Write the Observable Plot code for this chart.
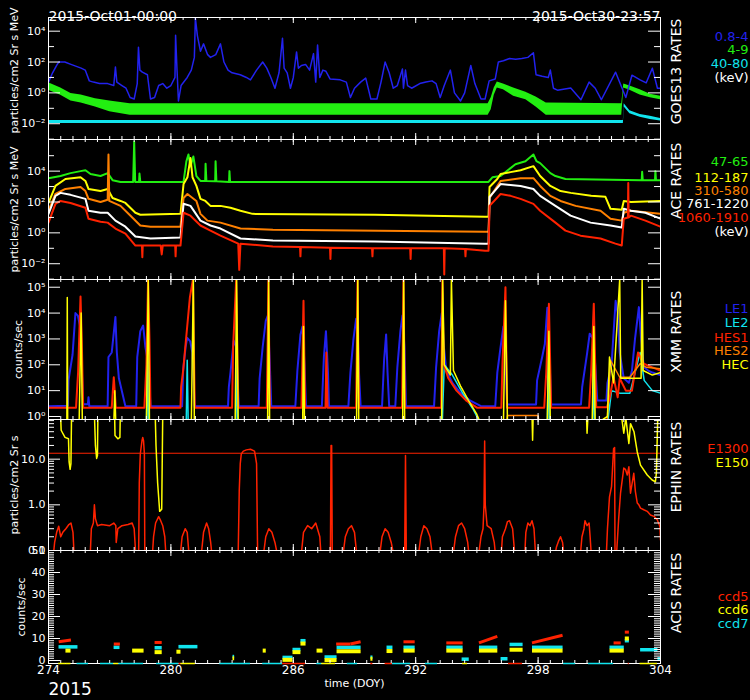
<!DOCTYPE html>
<html><head><meta charset="utf-8">
<script src="https://cdn.jsdelivr.net/npm/d3@7"></script>
<script src="https://cdn.jsdelivr.net/npm/@observablehq/plot@0.6"></script>
<style>
body{margin:0;background:#000;}
#wrap{position:relative;width:750px;height:700px;background:#000;overflow:hidden;}
#wrap svg{position:absolute;left:0;overflow:visible;}
</style></head><body><div id="wrap"></div>
<script>
// ---------------- DATA ----------------
// GOES13 0.8-4 keV
const goesBlueDoy = [274.0,274.2,274.4,274.5,274.8,275.1,275.4,275.6,275.8,276.0,276.2,276.5,276.9,277.2,277.28,277.35,277.6,277.8,278.0,278.2,278.35,278.41,278.48,278.6,278.85,279.0,279.2,279.4,279.6,279.8,280.0,280.2,280.23,280.3,280.37,280.5,280.8,281.0,281.15,281.2,281.3,281.45,281.6,281.8,281.94,282.2,282.43,282.6,282.8,283.0,283.4,283.7,283.9,284.2,284.5,284.7,284.9,285.1,285.3,285.47,285.55,285.7,285.86,286.0,286.16,286.25,286.4,286.6,286.8,286.99,287.1,287.19,287.3,287.45,287.6,287.8,288.3,288.6,288.8,289.0,289.3,289.55,289.8,290.1,290.3,290.5,290.7,290.9,291.1,291.35,291.4,291.5,291.6,291.8,292.2,292.5,292.8,293.0,293.2,293.4,293.7,293.9,294.2,294.4,294.7,294.9,295.2,295.4,295.6,295.9,296.05,296.3,296.6,296.9,297.2,297.5,297.77,297.9,298.2,298.5,298.6,298.75,298.95,299.6,300.1,300.5,300.8,301.1,301.8,302.3,302.6,303.0,303.3,303.6,303.85,304.0];
const goesBlueVal = [5,20,60,100,100,70,50,40,30,6,5,4,4,3,48,5,3,2,0.5,0.4,4,900,30,22,15,0.4,0.5,3,4,2,3,10,5500,30,0.3,3,10,30,200,70000,5000,500,1500,300,200,300,1500,100,30,20,15,10,7,30,100,40,10,2,20,3500,40,20,2,10,450,40,60,70,30,350,5,1250,10,30,25,8,7,5,0.5,2,5,9,0.4,0.4,5,100,20,2,3,35,2,30,3,2,4,5,6,4,0.5,3,30,1,0.3,1,60,4,0.4,0.4,6,8,100,120,170,150,170,200,400,15,12,10,30,2,1.5,2.1,0.36,5,2,0.36,22,0.5,14,7,4.5,40,2,2];
// GOES13 4-9 keV (noise envelope)
const goesGreenDoy = [274.0,274.6,275.1,275.6,276.3,277.0,278.0,295.55,295.7,295.85,296.0,296.3,296.8,297.4,297.9,298.4,302.1,302.2,302.5,303.0,303.5,304.0];
const goesGreenLo  = [1.5,0.7,0.3,0.22,0.12,0.06,0.035,0.035,0.08,0.7,2.1,1.6,0.6,0.36,0.12,0.035,0.035,2.1,1.5,0.74,0.48,0.36];
const goesGreenHi  = [4.5,2.1,0.9,0.74,0.41,0.3,0.2,0.2,0.48,2.1,5,3.8,2.1,1.1,0.55,0.22,0.2,3.8,2.8,1.6,0.8,0.6];
// GOES13 40-80 keV (noise envelope)
const goesCyanDoy = [274.0,302.18,302.22,302.5,303.0,303.5,304.0];
const goesCyanLo  = [0.0105,0.0105,0.12,0.045,0.026,0.019,0.015];
const goesCyanHi  = [0.016,0.016,0.2,0.07,0.04,0.03,0.022];

// ACE
const ace47Doy = [274.0,274.59,275.08,275.57,275.81,276.06,276.55,276.9,277.14,277.53,278.15,278.2,278.25,278.44,278.46,278.5,280.62,280.76,280.86,280.96,281.1,281.25,281.45,281.68,281.7,281.74,282.17,282.19,282.23,282.85,282.87,282.9,283.41,295.57,295.76,296.16,296.89,297.38,297.77,297.92,298.1,298.6,298.85,299.34,303.08,303.1,303.13,303.73,303.75,303.78,304.0];
const ace47Val = [3500,4800,7400,10000,11500,6500,4800,7400,2600,2000,2000,800000,2000,2000,7000,2000,2000,44000,120000,20000,90000,4800,2300,2300,30000,2300,2200,44000,2200,2000,10000,2000,2000,2000,4000,4800,28000,44000,120000,44000,33000,7400,4800,3100,2600,9000,2600,2600,10000,2600,2600];
const ace112Doy = [274.0,274.34,274.83,275.57,275.81,275.96,276.55,276.9,277.14,277.53,277.77,278.26,278.5,280.47,280.62,280.81,280.96,281.06,281.25,281.45,281.69,281.94,282.43,282.92,283.41,284.0,290.0,295.4,295.57,295.62,296.0,296.16,296.65,297.14,297.77,298.1,298.6,299.1,299.6,300.6,301.3,301.55,302.1,302.2,302.55,304.0];
const ace112Val = [87,1100,3100,4000,2300,700,510,700,180,117,87,20,15,17,1450,4000,70000,4000,1100,160,117,56,56,42,27,17,15,11,11,930,3100,6500,8600,11500,21000,4800,1100,510,390,250,215,36,31,117,100,117];
const ace310Doy = [274.0,274.34,274.83,275.57,275.81,275.96,276.55,276.9,276.94,276.98,277.53,278.02,278.5,279.0,280.47,280.62,280.81,281.25,281.45,281.79,282.43,283.41,285.0,295.4,295.57,295.62,296.16,297.14,297.77,298.1,298.6,299.1,299.84,301.06,301.55,302.1,302.2,302.55,304.0];
const ace310Val = [27,330,700,930,510,160,100,140,120000,117,56,13,3,2.5,2.5,180,330,117,17,6.2,4.6,1.9,1.6,1.2,1.2,180,2300,3500,3500,1100,250,117,56,27,8.3,6.2,20,27,17];
const ace761Doy = [274.0,274.34,274.59,275.08,275.81,275.96,276.55,276.9,277.28,277.77,278.26,279.0,280.47,280.62,280.96,281.45,281.94,282.43,283.41,285.0,290.0,295.4,295.57,295.62,296.16,297.14,297.77,298.1,298.85,299.59,300.57,301.55,302.1,302.2,302.55,303.26,304.0];
const ace761Val = [17,250,390,290,160,27,20,20,6.2,2.5,0.58,0.43,0.5,76,56,6.2,3,1.9,0.43,0.32,0.28,0.2,0.2,215,1450,1100,700,250,56,13,4.6,3,2.2,36,27,20,8.3];
const ace1060Doy = [274.0,274.34,274.59,275.08,275.81,275.96,276.55,276.9,277.28,277.77,278.26,278.58,278.6,278.62,279.5,279.55,279.6,280.21,280.23,280.25,280.47,280.62,280.96,281.45,281.94,282.43,283.3,283.35,283.41,285.0,286.33,286.35,286.37,287.8,287.82,287.84,289.86,289.88,289.9,290.0,291.73,291.75,291.77,293.38,293.4,293.42,294.42,294.44,294.46,295.4,295.57,295.62,296.16,296.65,297.14,297.77,298.1,298.85,299.34,300.08,301.06,301.79,302.1,302.2,302.4,302.42,302.44,302.55,303.26,304.0];
const ace1060Val = [4.6,76,117,87,42,8.3,5.2,4.6,1.9,0.9,0.15,0.15,0.026,0.15,0.15,0.04,0.15,0.15,0.03,0.15,0.15,20,13,3,1.4,0.66,0.2,0.004,0.2,0.13,0.12,0.03,0.12,0.11,0.02,0.11,0.1,0.03,0.1,0.1,0.1,0.02,0.1,0.1,0.002,0.1,0.09,0.03,0.09,0.07,0.07,56,330,250,160,76,27,4.6,1.4,0.66,0.43,0.2,0.15,8.3,10,1700,10,13,6.2,2.5];

// XMM
const le1Doy = [274.0,274.95,274.98,275.18,275.32,275.44,275.55,275.7,275.93,275.96,276.0,276.9,276.94,277.1,277.28,277.35,277.45,277.77,278.3,278.35,278.5,278.64,278.75,278.9,279.0,280.55,280.6,280.72,280.8,280.95,281.05,281.17,282.8,282.84,282.92,283.08,283.2,283.33,284.3,284.35,284.5,284.65,284.75,284.85,284.92,286.1,286.2,286.35,286.45,286.55,286.62,287.4,287.5,287.6,287.7,287.75,288.7,288.8,288.95,289.08,289.15,289.22,289.3,290.35,290.45,290.55,290.62,290.7,291.0,291.1,291.25,291.35,291.45,291.52,292.9,293.0,293.15,293.28,293.38,293.5,293.8,294.2,294.7,295.2,295.9,296.0,296.16,296.3,296.4,296.48,297.9,297.95,298.2,298.33,298.45,298.55,298.64,300.1,300.16,300.4,300.53,300.7,300.8,300.9,301.35,301.4,301.6,301.8,301.9,302.0,302.2,302.45,302.6,302.75,302.94,303.05,303.18,303.4,303.6,304.0];
const le1Val = [2.5,2.6,25,250,10000,8000,3000,3,3,5.6,2.5,2.5,200,300,7000,300,30,2.5,2.5,200,2000,3300,480,100,2.5,2.5,60,480,1100,800,300,2.5,2.5,13.6,50,870,500,2.5,2.5,30,500,5000,8000,100,2.5,2.5,60,1500,3000,100,2.5,2.5,200,2000,50,2.5,2.5,50,1000,6000,3000,50,2.5,2.5,150,1500,50,2.5,2.5,80,2000,8000,500,2.5,2.5,80,2000,10000,500,60,20,8,4,2.5,2.5,50,480,3000,200,2.9,2.9,25,200,640,16000,300,2.9,2.9,13.6,270,1600,1000,100,4.2,4.2,20,100,30000,10000,300,30,20,60,1000,17000,1000,80,60,50,40];
const hes1Doy = [274.0,275.35,275.45,275.57,275.63,275.7,277.1,277.2,277.3,278.7,278.8,278.88,278.95,279.0,280.47,280.5,280.6,280.93,281.08,281.17,283.0,283.05,283.2,283.3,284.7,284.78,284.85,286.4,286.5,286.58,287.58,287.62,287.68,289.08,289.15,289.22,291.33,291.4,291.47,293.25,293.31,293.38,293.6,294.0,294.5,295.0,296.2,296.25,296.4,296.48,298.3,298.4,298.53,298.64,300.5,300.6,300.73,300.85,301.38,301.5,301.7,301.9,302.0,302.3,302.6,302.9,303.18,303.6,304.0];
const hes1Val = [2.2,2.2,50,44000,1000,2.2,2.2,33,2.2,2.2,100,200000,1000,2.2,2.2,13.6,60,40000,200000,2.2,2.2,480,200000,2.2,2.2,200000,2.2,2.2,30000,2.2,2.2,300,2.2,2.2,200000,2.2,2.2,200000,2.2,2.2,200000,100,30,10,4,2.2,2.2,100,100000,2.2,2.2,50,23000,2.2,2.2,50,23000,2.3,2.3,5,33,5.5,30,10,10,300,110,80,60];
const hecDoy = [274.0,274.9,274.92,274.94,275.5,275.6,275.66,277.2,277.25,277.3,278.8,278.89,278.95,281.0,281.1,281.15,283.15,283.22,283.3,284.74,284.79,284.84,286.46,286.5,286.55,289.1,289.16,289.21,291.36,291.41,291.46,293.27,293.32,293.4,293.7,293.75,293.85,294.2,294.6,295.0,295.2,296.3,296.4,296.5,298.45,298.53,298.6,300.65,300.73,300.8,301.4,301.5,301.7,302.0,302.05,302.5,303.05,303.1,303.15,303.6,304.0];
const hecVal = [0.5,0.5,40000,0.5,0.5,10000,0.5,0.5,10,0.5,0.5,200000,0.5,0.5,200000,0.5,0.5,200000,0.5,0.5,200000,0.5,0.5,3000,0.5,0.5,200000,0.5,0.5,200000,0.5,0.5,200000,100,40,200000,60,15,4,1.2,0.5,0.5,30000,0.5,0.5,2000,0.5,0.5,3000,0.5,1,200,20,200000,30,30,30,200000,60,40,50];
const le2Doy = [274.0,278.8,278.85,278.9,280.75,280.8,280.85,283.17,283.22,283.27,293.3,293.4,293.8,294.3,294.8,295.2,298.45,298.5,298.55,300.67,300.72,300.77,301.4,301.6,302.0,302.5,303.0,303.2,303.6,304.0];
const le2Val = [0.5,0.5,300,0.5,0.5,150,0.5,0.5,360,0.5,0.5,100,40,8,2,0.5,0.5,200,0.5,0.5,120,0.5,0.5,10,8,8,300,25,10,8];
const hes2Doy = [274.0,296.45,296.5,298.0,298.05,301.38,301.55,302.0,302.5,303.0,303.3,304.0];
const hes2Val = [0.5,0.5,1.1,1.1,0.5,0.5,150,33,33,110,80,70];

// EPHIN
const e150Doy = [274.0,274.59,274.62,274.81,274.98,275.01,275.06,275.1,275.13,276.25,276.3,276.36,276.4,276.42,277.24,277.26,277.4,277.5,277.52,279.23,279.27,279.35,279.45,279.55,279.6,297.7,297.73,297.76,300.37,300.4,300.45,302.07,302.2,302.3,302.45,302.53,302.7,302.86,303.02,303.35,303.59,303.75,303.8,303.84,303.87,304.0];
const e150Val = [100,100,43,30,28,8.7,6,8,100,100,20,10.4,12,100,100,33,28,30,100,100,20,3.0,0.72,0.8,100,100,26,100,100,37,100,100,37,80,22,60,40,14.4,7.4,4.5,3.5,3.2,5,30,100,100];
const e1300Doy = [274.25,274.3,274.4,274.5,274.6,274.7,274.85,275.0,275.1,275.2,275.25,null,276.05,276.1,276.2,276.25,276.3,276.4,276.6,277.0,277.2,277.3,277.32,277.4,277.6,277.9,278.1,278.2,278.27,null,278.42,278.45,278.5,278.58,278.62,278.66,278.7,278.72,null,279.1,279.15,279.25,279.4,279.5,279.6,279.7,279.75,null,280.47,280.55,280.7,280.8,280.88,null,281.5,281.6,281.75,281.85,281.95,282.0,null,283.3,283.35,283.4,283.45,283.55,283.7,283.9,284.1,284.2,284.25,null,284.55,284.65,284.8,284.95,285.1,285.2,null,286.4,286.5,286.7,286.9,287.1,287.3,287.35,null,287.82,287.85,287.88,287.91,null,288.45,288.55,288.7,288.85,289.0,289.1,null,290.25,290.35,290.5,290.65,290.8,290.9,null,291.46,291.5,291.54,null,292.15,292.25,292.4,292.55,292.7,292.8,null,293.85,293.95,294.1,294.25,294.4,294.55,294.6,null,295.1,295.2,295.3,295.35,295.38,295.41,295.5,295.7,295.85,295.9,null,296.2,296.25,296.4,296.5,296.6,296.75,296.85,null,297.35,297.4,297.5,297.6,297.7,297.8,297.87,null,298.85,298.9,299.0,299.1,299.2,299.25,null,300.08,300.15,300.25,300.3,300.4,300.5,300.55,300.6,null,301.35,301.4,301.5,301.6,301.7,301.75,301.77,null,301.85,301.95,302.04,302.2,302.28,302.37,302.45,302.53,302.61,302.69,302.77,302.86,302.94,303.02,303.18,303.35,303.51,303.68,303.84,303.97,304.0];
const e1300Val = [0.09,0.15,0.25,0.34,0.2,0.25,0.3,0.37,0.4,0.25,0.09,null,0.09,0.3,0.4,1.0,0.5,0.35,0.37,0.35,0.4,0.35,0.15,0.3,0.35,0.37,0.4,0.3,0.09,null,0.09,3,13,25,30,25,13,0.09,null,0.09,0.2,0.4,0.55,0.45,0.35,0.2,0.09,null,0.09,0.2,0.3,0.25,0.09,null,0.09,0.25,0.4,0.3,0.15,0.09,null,0.09,2,8,13,15,16,16.5,15,8,0.09,null,0.09,0.2,0.3,0.25,0.15,0.09,null,0.09,0.25,0.35,0.3,0.4,0.2,0.09,null,0.09,20,20,0.09,null,0.09,0.2,0.3,0.35,0.25,0.09,null,0.09,0.2,0.3,0.25,0.15,0.09,null,0.09,12,0.09,null,0.09,0.2,0.35,0.3,0.2,0.09,null,0.09,0.2,0.35,0.4,0.3,0.15,0.09,null,0.09,0.2,0.3,1,25,1,0.35,0.3,0.15,0.09,null,0.09,0.2,0.3,0.43,0.45,0.3,0.09,null,0.09,0.25,0.4,0.35,0.45,0.3,0.09,null,0.09,0.12,0.16,0.2,0.15,0.09,null,0.09,0.2,0.3,0.45,0.35,0.4,0.2,0.09,null,0.09,0.3,1.5,2.5,17,18,0.09,null,0.09,0.5,1.8,6.4,6,4.5,6.8,1.8,3,4.9,1.95,1.1,1.0,0.85,0.78,0.72,0.6,0.56,0.47,0.34,0.17];
const ephinRef = [13.5];

// ACIS (bands: start, end, start value, end value)
const ccd5Start = [274.5,277.2,279.2,288.1,288.8,291.4,293.5,295.1,297.7,301.7,302.25];
const ccd5End   = [275.1,277.5,279.55,288.8,289.3,291.95,294.3,296.0,299.2,302.05,302.45];
const ccd5V1    = [8.5,7.5,8.2,7.5,7.5,8.5,8,8,8,8,12.9];
const ccd5V2    = [9.3,7.5,8.2,7.5,8.5,8.5,8,11,11.5,8,12.9];
const ccd6Start = [274.83,278.1,279.2,280.27,283.02,284.5,285.47,285.96,286.35,287.14,287.53,288.12,289.78,290.57,291.4,293.5,295.1,296.6,297.7,301.5,302.25];
const ccd6End   = [275.08,278.66,279.55,280.47,283.1,284.65,285.96,286.35,286.6,287.43,288.12,289.3,289.88,290.86,291.95,294.3,296.0,297.24,299.2,302.2,302.45];
const ccd6V1    = [4.5,4.5,3.8,4.0,1.0,4.5,0.3,3.8,7.7,4.5,0.2,4.2,0.8,4.3,4.5,4.5,4.5,4.9,4.5,4.5,10];
const ccd6V2    = [4.5,4.5,3.8,4.0,1.0,4.5,0.3,3.8,7.7,4.5,0.2,4.2,0.8,4.3,4.5,4.5,4.5,4.9,4.5,4.5,10];
const ccd7Start = [274.49,277.19,279.2,280.37,283.02,285.47,285.96,286.35,287.53,288.12,289.78,290.57,291.4,293.5,294.25,295.1,296.16,296.6,297.7,301.5,302.25,303.0,303.85];
const ccd7End   = [275.42,277.48,279.55,281.3,283.1,285.96,286.35,286.6,288.12,289.3,289.88,290.86,291.95,294.3,294.6,296.0,296.5,297.24,299.2,302.2,302.45,303.85,304.0];
const ccd7V1    = [6.2,6.0,5.8,6.3,1.8,1.4,5.0,9.0,1.6,6.0,1.5,6.0,6.0,6.0,0.6,6.0,0.8,7.3,6.0,6.0,9,4.9,0.8];
const ccd7V2    = [6.2,6.0,5.8,6.3,1.8,1.4,5.0,9.0,1.6,6.0,1.5,6.0,6.0,6.0,0.6,6.0,0.8,7.3,6.0,6.0,9,4.9,0.8];
// ACIS readings lying on the floor of the panel (off-scale low)
const floorStart = [274.5,274.85,275.4,276.55,277.2,277.45,279.3,280.4,280.5,282.4,284.5,285.47,287.15,287.4,288.65,289.8,290.5,290.86,292.48,294.3,296.55,299.25,300.47,302.42,303.0];
const floorEnd   = [274.85,275.1,275.96,277.2,277.45,278.66,280.4,280.5,281.2,283.9,285.47,286.6,287.4,288.07,289.15,289.9,290.86,291.75,293.07,294.54,297.24,299.84,301.7,302.47,303.85];
const floorCcd   = ["ccd6","ccd6","ccd7","ccd7","ccd6","ccd7","ccd7","ccd5","ccd6","ccd7","ccd7","ccd5","ccd7","ccd6","ccd7","ccd5","ccd5","ccd7","ccd7","ccd6","ccd5","ccd7","ccd7","ccd5","ccd6"];

// axis ticks / labels
const xMajor = [274,280,286,292,298,304];
const xMinor = d3.range(0,51).map(i => +(274 + i*0.6).toFixed(1));
const logMajorGA = [1e-2,1,1e2,1e4];
const logMinorGoes = [1e-3,1e-1,10,1e3];
const logMinorAce = [1e-3,1e-1,10,1e3,1e5];
const xmmTicks = [1,10,100,1e3,1e4,1e5];
const ephinMajor = [0.1,1,10];
const ephinMinor = [0.2,0.3,0.4,0.5,0.6,0.7,0.8,0.9,2,3,4,5,6,7,8,9,20,30,40,50,60,70];
const ephinLabels = ["0.1","1.0","10.0"];
const acisMajor = [0,10,20,30,40,50];
const acisMinor = d3.range(0,51).filter(v => v % 10 !== 0);

// ---------------- DRAW ----------------
const C = {blue:"#2222ee", green:"#22ee11", cyan:"#11e4ee", yellow:"#ffff00", orange:"#ff8000", red:"#ff2200", white:"#ffffff"};
const ccdColor = {ccd5: C.red, ccd6: C.yellow, ccd7: C.cyan};
const W = 612;
const FONT = "DejaVu Sans";
const sup = {"-":"⁻","0":"⁰","1":"¹","2":"²","3":"³","4":"⁴","5":"⁵","6":"⁶"};
const pow = d => "10" + String(Math.round(Math.log10(d))).split("").map(c => sup[c]).join("");
const rows = (xs, ys) => xs.map((x, i) => ({x: x == null ? NaN : x, y: ys[i] == null ? NaN : ys[i]}));
const band = (xs, lo, hi) => xs.map((x, i) => ({x, lo: lo[i], hi: hi[i]}));
const segs = (a, b, v1, v2) => a.map((x, i) => ({x1: x, x2: b[i], y1: v1[i], y2: v2[i]}));
const wrap = document.getElementById("wrap");

function panel(o) {
  const mt = o.mt || 0, mb = o.mb || 0, ph = o.h - mt - mb;
  const tk = {stroke: "#fff", strokeWidth: 1};
  const marks = [
    ...o.marks,
    Plot.frame({stroke: "#fff"}),
    ...(o.over || []),
    Plot.tickX(xMinor, {x: d => d, ...tk, insetTop: ph - 3}),
    Plot.tickX(xMinor, {x: d => d, ...tk, insetBottom: ph - 3}),
    Plot.tickX(xMajor, {x: d => d, ...tk, insetTop: ph - 6}),
    Plot.tickX(xMajor, {x: d => d, ...tk, insetBottom: ph - 6}),
    Plot.tickY(o.yMajor, {y: d => d, ...tk, insetRight: W - 12}),
    Plot.tickY(o.yMajor, {y: d => d, ...tk, insetLeft: W - 12}),
    Plot.tickY(o.yMinor, {y: d => d, ...tk, insetRight: W - 6}),
    Plot.tickY(o.yMinor, {y: d => d, ...tk, insetLeft: W - 6}),
    Plot.text(o.yMajor, {y: d => d, text: o.fmt, frameAnchor: "left", dx: -3, textAnchor: "end", fill: "#fff", fontSize: 11}),
    Plot.text([o.ylabel], {frameAnchor: "left", dx: o.ylabelX - 48, dy: o.ylabelDy || 0, rotate: -90, textAnchor: "middle", fill: "#fff", fontSize: 11}),
    Plot.text([o.title], {frameAnchor: "top-right", dx: 11, dy: o.titleDy, rotate: -90, textAnchor: "end", fill: "#fff", fontSize: 14}),
    ...o.legend.map((t, i) => Plot.text([t[0]], {frameAnchor: "top-right", dx: 88, dy: o.legendY[i], textAnchor: "end", fill: t[1], fontSize: 13})),
    ...(o.extra || [])
  ];
  const svg = Plot.plot({
    width: 750, height: o.h, marginLeft: 48, marginRight: 90, marginTop: mt, marginBottom: mb,
    x: {domain: [274, 304], axis: null},
    y: {type: o.type || "log", domain: o.domain, axis: null},
    style: {background: "transparent", color: "#fff", fontFamily: FONT, fontSize: "11px", overflow: "visible"},
    marks
  });
  svg.style.top = o.top + "px";
  wrap.appendChild(svg);
}

// GOES13
panel({
  top: 0, h: 139, mt: 17, domain: [0.00095, 77000],
  yMajor: logMajorGA, yMinor: logMinorGoes, fmt: pow,
  ylabel: "particles/cm2 Sr s MeV", ylabelX: 14, ylabelDy: -8,
  title: "GOES13 RATES", titleDy: 1,
  legend: [["0.8-4", C.blue], ["4-9", C.green], ["40-80", C.cyan], ["(keV)", C.white]],
  legendY: [14, 27, 41, 55],
  marks: [
    Plot.areaY(band(goesCyanDoy, goesCyanLo, goesCyanHi), {x: "x", y1: "lo", y2: "hi", fill: C.cyan, clip: true}),
    Plot.areaY(band(goesGreenDoy, goesGreenLo, goesGreenHi), {x: "x", y1: "lo", y2: "hi", fill: C.green, clip: true}),
    Plot.line(rows(goesBlueDoy, goesBlueVal), {x: "x", y: "y", stroke: C.blue, strokeWidth: 1.5, clip: true})
  ],
  extra: [
    Plot.text(["2015-Oct01-00:00"], {frameAnchor: "top-left", dy: -6, textAnchor: "start", fill: "#fff", fontSize: 14}),
    Plot.text(["2015-Oct30-23:57"], {frameAnchor: "top-right", dy: -6, textAnchor: "end", fill: "#fff", fontSize: 14})
  ]
});

// ACE
panel({
  top: 139, h: 140, domain: [0.00095, 1.12e6],
  yMajor: logMajorGA, yMinor: logMinorAce, fmt: pow,
  ylabel: "particles/cm2 Sr s MeV", ylabelX: 14,
  title: "ACE RATES", titleDy: 3,
  legend: [["47-65", C.green], ["112-187", C.yellow], ["310-580", C.orange], ["761-1220", C.white], ["1060-1910", C.red], ["(keV)", C.white]],
  legendY: [17, 33, 46, 59, 73, 87],
  marks: [
    Plot.line(rows(ace47Doy, ace47Val), {x: "x", y: "y", stroke: C.green, strokeWidth: 2, clip: true}),
    Plot.line(rows(ace112Doy, ace112Val), {x: "x", y: "y", stroke: C.yellow, strokeWidth: 2, clip: true}),
    Plot.line(rows(ace310Doy, ace310Val), {x: "x", y: "y", stroke: C.orange, strokeWidth: 2, clip: true}),
    Plot.line(rows(ace761Doy, ace761Val), {x: "x", y: "y", stroke: C.white, strokeWidth: 2, clip: true}),
    Plot.line(rows(ace1060Doy, ace1060Val), {x: "x", y: "y", stroke: C.red, strokeWidth: 2, clip: true})
  ]
});

// XMM
panel({
  top: 279, h: 140, domain: [0.766, 1.99e5],
  yMajor: xmmTicks, yMinor: [], fmt: pow,
  ylabel: "counts/sec", ylabelX: 18,
  title: "XMM RATES", titleDy: 11,
  legend: [["LE1", C.blue], ["LE2", C.cyan], ["HES1", C.red], ["HES2", C.orange], ["HEC", C.yellow]],
  legendY: [24, 38, 53, 66, 80],
  marks: [
    Plot.line(rows(le1Doy, le1Val), {x: "x", y: "y", stroke: C.blue, strokeWidth: 2, clip: true}),
    Plot.line(rows(le2Doy, le2Val), {x: "x", y: "y", stroke: C.cyan, strokeWidth: 1.5, clip: true}),
    Plot.line(rows(hes1Doy, hes1Val), {x: "x", y: "y", stroke: C.red, strokeWidth: 2, clip: true}),
    Plot.line(rows(hes2Doy, hes2Val), {x: "x", y: "y", stroke: C.orange, strokeWidth: 1.5, clip: true}),
    Plot.line(rows(hecDoy, hecVal), {x: "x", y: "y", stroke: C.yellow, strokeWidth: 1.5, clip: true})
  ]
});

// EPHIN
panel({
  top: 419, h: 131, domain: [0.1, 74],
  yMajor: ephinMajor, yMinor: ephinMinor, fmt: (d, i) => ephinLabels[i],
  ylabel: "particles/cm2 Sr s", ylabelX: 14,
  title: "EPHIN RATES", titleDy: 2,
  legend: [["E1300", C.red], ["E150", C.yellow]],
  legendY: [24, 38],
  marks: [
    Plot.ruleY(ephinRef, {y: d => d, stroke: C.red, strokeWidth: 1}),
    Plot.line(rows(e150Doy, e150Val), {x: "x", y: "y", stroke: C.yellow, strokeWidth: 1.5, clip: true}),
    Plot.line(rows(e1300Doy, e1300Val), {x: "x", y: "y", stroke: C.red, strokeWidth: 1.5, clip: true})
  ]
});

// ACIS
panel({
  top: 550, h: 150, mb: 37, type: "linear", domain: [-1.36, 50],
  yMajor: acisMajor, yMinor: acisMinor, fmt: d => String(d),
  ylabel: "counts/sec", ylabelX: 21,
  title: "ACIS RATES", titleDy: 2,
  legend: [["ccd5", C.red], ["ccd6", C.yellow], ["ccd7", C.cyan]],
  legendY: [41, 54, 68],
  marks: [
    Plot.link(segs(ccd7Start, ccd7End, ccd7V1, ccd7V2), {x1: "x1", x2: "x2", y1: "y1", y2: "y2", stroke: C.cyan, strokeWidth: 3.5, clip: true}),
    Plot.link(segs(ccd6Start, ccd6End, ccd6V1, ccd6V2), {x1: "x1", x2: "x2", y1: "y1", y2: "y2", stroke: C.yellow, strokeWidth: 4, clip: true}),
    Plot.link(segs(ccd5Start, ccd5End, ccd5V1, ccd5V2), {x1: "x1", x2: "x2", y1: "y1", y2: "y2", stroke: C.red, strokeWidth: 3, clip: true})
  ],
  over: [
    Plot.ruleY(floorStart.map((s, i) => ({x1: s, x2: floorEnd[i], c: floorCcd[i]})), {x1: "x1", x2: "x2", y: -1.36, stroke: d => ccdColor[d.c], strokeWidth: 1.5})
  ],
  extra: [
    Plot.text(xMajor, {x: d => d, frameAnchor: "bottom", dy: 10, text: d => String(d), fill: "#fff", fontSize: 12}),
    Plot.text(["time (DOY)"], {frameAnchor: "bottom", dy: 23, fill: "#fff", fontSize: 11}),
    Plot.text(["2015"], {frameAnchor: "bottom-left", dy: 31, textAnchor: "start", fill: "#fff", fontSize: 17})
  ]
});
</script>
</body></html>
